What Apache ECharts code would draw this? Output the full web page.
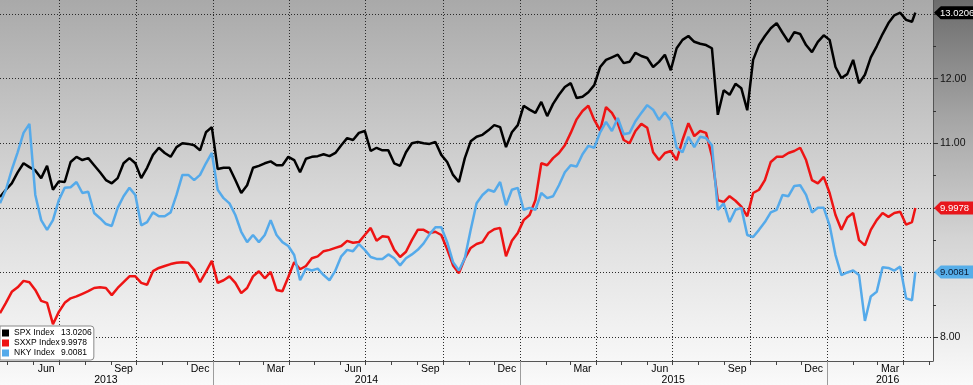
<!DOCTYPE html>
<html><head><meta charset="utf-8">
<script src="https://cdn.jsdelivr.net/npm/echarts@6/dist/echarts.min.js"></script>
<style>html,body{margin:0;padding:0;background:#fff}#c{width:973px;height:385px}</style>
</head><body><div id="c"></div>
<script>
const seriesNames = ['SPX Index', 'SXXP Index', 'NKY Index'];
const dates = [
'2013-04-22','2013-04-29','2013-05-06','2013-05-13','2013-05-20','2013-05-27','2013-06-03','2013-06-10','2013-06-17','2013-06-24',
'2013-07-01','2013-07-08','2013-07-15','2013-07-22','2013-07-29','2013-08-05','2013-08-12','2013-08-19','2013-08-26','2013-09-02',
'2013-09-09','2013-09-16','2013-09-23','2013-09-30','2013-10-07','2013-10-14','2013-10-21','2013-10-28','2013-11-04','2013-11-11',
'2013-11-18','2013-11-25','2013-12-02','2013-12-09','2013-12-16','2013-12-23','2013-12-30',
'2014-01-06','2014-01-13','2014-01-20','2014-01-27','2014-02-03','2014-02-10','2014-02-17','2014-02-24','2014-03-03','2014-03-10',
'2014-03-17','2014-03-24','2014-03-31','2014-04-07','2014-04-14','2014-04-21','2014-04-28','2014-05-05','2014-05-12','2014-05-19',
'2014-05-26','2014-06-02','2014-06-09','2014-06-16','2014-06-23','2014-06-30','2014-07-07','2014-07-14','2014-07-21','2014-07-28',
'2014-08-04','2014-08-11','2014-08-18','2014-08-25','2014-09-01','2014-09-08','2014-09-15','2014-09-22','2014-09-29','2014-10-06',
'2014-10-13','2014-10-20','2014-10-27','2014-11-03','2014-11-10','2014-11-17','2014-11-24','2014-12-01','2014-12-08','2014-12-15',
'2014-12-22','2014-12-29',
'2015-01-05','2015-01-12','2015-01-19','2015-01-26','2015-02-02','2015-02-09','2015-02-16','2015-02-23','2015-03-02','2015-03-09',
'2015-03-16','2015-03-23','2015-03-30','2015-04-06','2015-04-13','2015-04-20','2015-04-27','2015-05-04','2015-05-11','2015-05-18',
'2015-05-25','2015-06-01','2015-06-08','2015-06-15','2015-06-22','2015-06-29','2015-07-06','2015-07-13','2015-07-20','2015-07-27',
'2015-08-03','2015-08-10','2015-08-17','2015-08-24','2015-08-31','2015-09-07','2015-09-14','2015-09-21','2015-09-28','2015-10-05',
'2015-10-12','2015-10-19','2015-10-26','2015-11-02','2015-11-09','2015-11-16','2015-11-23','2015-11-30','2015-12-07','2015-12-14',
'2015-12-21','2015-12-28',
'2016-01-04','2016-01-11','2016-01-18','2016-01-25','2016-02-01','2016-02-08','2016-02-15','2016-02-22','2016-02-29','2016-03-07',
'2016-03-14','2016-03-21','2016-03-28','2016-04-04','2016-04-11','2016-04-15'
];
const spx = [
10.17,10.28,10.38,10.55,10.69,10.63,10.58,10.46,10.65,10.28,
10.41,10.40,10.71,10.79,10.74,10.77,10.66,10.55,10.43,10.38,
10.46,10.69,10.77,10.69,10.46,10.62,10.82,10.93,10.85,10.79,
10.94,11.00,10.99,10.97,10.89,11.17,11.25,10.60,10.62,10.62,
10.43,10.23,10.35,10.62,10.65,10.69,10.72,10.66,10.66,10.79,
10.74,10.55,10.76,10.79,10.80,10.83,10.80,10.85,10.97,11.08,
11.05,11.16,11.19,10.88,10.93,10.89,10.89,10.69,10.65,10.86,
11.00,11.02,11.00,10.99,11.02,10.82,10.71,10.51,10.40,10.77,
11.03,11.10,11.13,11.20,11.28,11.25,10.94,11.17,11.28,11.58,
11.52,11.47,11.64,11.42,11.61,11.75,11.87,11.93,11.70,11.72,
11.79,11.90,12.18,12.29,12.33,12.37,12.24,12.26,12.40,12.35,
12.32,12.18,12.26,12.37,12.13,12.47,12.60,12.66,12.57,12.54,
12.52,12.47,11.44,11.82,11.75,11.92,11.85,11.51,12.29,12.52,
12.66,12.78,12.86,12.71,12.57,12.72,12.69,12.52,12.41,12.57,
12.67,12.60,12.18,12.01,12.07,12.29,11.93,12.06,12.33,12.50,
12.69,12.86,12.98,13.02,12.91,12.88,13.0206
];
const sxxp = [
8.37,8.53,8.70,8.77,8.87,8.85,8.73,8.56,8.53,8.20,
8.39,8.53,8.60,8.63,8.67,8.71,8.76,8.77,8.76,8.65,
8.76,8.85,8.94,8.94,8.84,8.81,9.02,9.07,9.10,9.13,
9.15,9.16,9.15,9.04,8.85,9.01,9.18,8.84,8.88,8.94,
8.84,8.68,8.76,8.94,9.02,8.91,9.01,8.73,8.71,8.93,
9.16,9.05,9.10,9.22,9.25,9.33,9.35,9.38,9.41,9.49,
9.46,9.47,9.58,9.69,9.49,9.56,9.55,9.35,9.24,9.32,
9.50,9.66,9.66,9.61,9.63,9.58,9.36,9.11,8.99,9.22,
9.38,9.44,9.47,9.61,9.67,9.69,9.25,9.49,9.61,9.81,
9.89,10.12,10.69,10.66,10.77,10.85,10.97,11.16,11.37,11.50,
11.58,11.36,11.20,11.56,11.47,11.31,11.05,11.00,11.19,11.30,
11.24,10.86,10.74,10.85,10.88,10.74,11.05,11.31,11.11,11.19,
11.16,10.80,10.12,10.09,10.18,10.11,10.02,9.87,10.23,10.28,
10.43,10.71,10.79,10.79,10.85,10.88,10.93,10.74,10.43,10.38,
10.48,10.23,9.89,9.66,9.85,9.92,9.50,9.42,9.66,9.81,
9.92,9.86,9.92,9.94,9.74,9.78,9.9978
];
const nky = [
10.07,10.28,10.59,10.86,11.16,11.30,10.20,9.81,9.66,9.81,
10.12,10.31,10.32,10.40,10.23,10.25,9.92,9.84,9.75,9.72,
10.00,10.18,10.31,10.20,9.73,9.78,9.93,9.87,9.87,9.93,
10.20,10.51,10.51,10.43,10.51,10.69,10.85,10.28,10.15,10.07,
9.89,9.63,9.47,9.58,9.47,9.58,9.81,9.58,9.47,9.41,
9.27,8.88,9.06,9.03,9.06,8.96,8.88,9.03,9.25,9.35,
9.33,9.44,9.35,9.24,9.21,9.21,9.28,9.22,9.11,9.22,
9.28,9.35,9.45,9.59,9.70,9.70,9.47,9.16,9.03,9.22,
9.66,10.07,10.20,10.28,10.25,10.40,10.04,10.28,10.31,9.97,
10.00,9.97,10.23,10.15,10.18,10.35,10.55,10.66,10.64,10.83,
10.96,10.93,11.17,11.33,11.19,11.39,11.14,11.16,11.34,11.47,
11.59,11.52,11.36,11.48,11.36,10.93,10.86,11.10,10.94,11.10,
11.08,10.97,9.97,10.07,9.78,9.97,10.00,9.58,9.55,9.66,
9.78,9.93,9.97,10.20,10.18,10.34,10.35,10.20,9.93,10.00,
10.00,9.73,9.27,8.96,9.00,9.03,8.96,8.25,8.63,8.70,
9.08,9.07,9.03,9.09,8.60,8.57,9.0081
];
const xRange = ['2013-04-22', '2016-05-06'];
const quarterStarts = ['2013-07-01','2013-10-01','2014-01-01','2014-04-01','2014-07-01','2014-10-01','2015-01-01','2015-04-01','2015-07-01','2015-10-01','2016-01-01','2016-04-01'];
const monthTicks = ['2013-05-01','2013-06-01','2013-07-01','2013-08-01','2013-09-01','2013-10-01','2013-11-01','2013-12-01',
'2014-01-01','2014-02-01','2014-03-01','2014-04-01','2014-05-01','2014-06-01','2014-07-01','2014-08-01','2014-09-01','2014-10-01','2014-11-01','2014-12-01',
'2015-01-01','2015-02-01','2015-03-01','2015-04-01','2015-05-01','2015-06-01','2015-07-01','2015-08-01','2015-09-01','2015-10-01','2015-11-01','2015-12-01',
'2016-01-01','2016-02-01','2016-03-01','2016-04-01','2016-05-01'];
const monthLabels = [['2013-06-16','Jun'],['2013-09-16','Sep'],['2013-12-16','Dec'],['2014-03-16','Mar'],['2014-06-16','Jun'],['2014-09-16','Sep'],['2014-12-16','Dec'],['2015-03-16','Mar'],['2015-06-16','Jun'],['2015-09-16','Sep'],['2015-12-16','Dec'],['2016-03-16','Mar']];
const yearLabels = [['2013-08-26','2013'],['2014-07-02','2014'],['2015-07-02','2015'],['2016-03-13','2016']];
const yearStarts = ['2014-01-01','2015-01-01','2016-01-01'];
const yRange = [7.63, 13.217];
const yMajorTicks = [8, 9, 10, 11, 12, 13];
const yMinorTicks = [8.5, 9.5, 10.5, 11.5, 12.5];
const yTickLabels = [8, 11, 12];

const T = d => Date.parse(d + 'T00:00:00Z');
const FONT = "Tahoma,'Liberation Sans',Arial,sans-serif";
const colors = ['#000000', '#ee1414', '#55aaea'];
const allSeries = [spx, sxxp, nky];
const lastVals = allSeries.map(a => a[a.length - 1]);
const lastTxt = lastVals.map(v => v.toFixed(4));
const tagStyles = ['spx', 'sxxp', 'nky'];

const monthLabelMap = {}; monthLabels.forEach(m => monthLabelMap[T(m[0])] = m[1]);
const yearLabelMap = {}; yearLabels.forEach(m => yearLabelMap[T(m[0])] = m[1]);

function tagImage(color) {
  const c = document.createElement('canvas');
  c.width = 80; c.height = 26;
  const g = c.getContext('2d');
  g.fillStyle = color;
  g.beginPath(); g.moveTo(0, 13); g.lineTo(11, 0); g.lineTo(80, 0); g.lineTo(80, 26); g.lineTo(11, 26); g.closePath(); g.fill();
  return c;
}

const xBase = {type: 'value', min: T(xRange[0]), max: T(xRange[1]), position: 'bottom', gridIndex: 0};
const yBase = {type: 'value', min: yRange[0], max: yRange[1], position: 'right', gridIndex: 0};
const dotted = {color: '#2a2a2a', width: 1, type: [1, 2]};
const legText = {fontFamily: FONT, fontSize: 8.5, color: '#000', lineHeight: 10};
const tagText = {fontFamily: FONT, fontSize: 9.5, padding: [2, 3, 1, 6], lineHeight: 11};

const chart = echarts.init(document.getElementById('c'), null, {renderer: 'canvas'});
chart.setOption({
  animation: false,
  backgroundColor: {type: 'linear', x: 0, y: 0, x2: 0, y2: 1, colorStops: [
    {offset: 0, color: '#6c6c6c'}, {offset: 0.3, color: '#a4a4a4'}, {offset: 0.62, color: '#d4d4d4'}, {offset: 1, color: '#fafafa'}]},
  grid: {left: 0, right: 40, top: 0, bottom: 24, show: true, borderWidth: 0,
    containLabel: false, outerBoundsMode: 'none',
    backgroundColor: {type: 'linear', x: 0, y: 0, x2: 0, y2: 1, colorStops: [
      {offset: 0, color: '#a9a9a9'}, {offset: 0.55, color: '#d9d9d9'}, {offset: 1, color: '#f7f7f7'}]}},
  legend: [
    {
      orient: 'vertical', left: 0, top: 326, padding: [2, 34, 2, 2], itemGap: 0,
      itemWidth: 7, itemHeight: 7, icon: 'rect', selectedMode: false,
      backgroundColor: '#ffffff', borderColor: '#8a8a8a', borderWidth: 1, borderRadius: [0, 3, 3, 0],
      data: seriesNames, textStyle: legText, z: 10
    },
    {
      orient: 'vertical', left: 54, top: 326, padding: [2, 0, 2, 2], itemGap: 0,
      itemWidth: 0, itemHeight: 7, icon: 'none', selectedMode: false,
      data: seriesNames, formatter: name => lastTxt[seriesNames.indexOf(name)],
      textStyle: legText, z: 11
    }
  ],
  xAxis: [
    Object.assign({}, xBase, {
      axisLine: {show: true, onZero: false, lineStyle: {color: '#555', width: 1}},
      axisTick: {show: true, customValues: monthTicks.map(T), length: 4, lineStyle: {color: '#444'}},
      axisLabel: {show: true, customValues: monthLabels.map(m => T(m[0])), margin: 3,
        formatter: v => monthLabelMap[v] || '', fontFamily: FONT, fontSize: 10.5, color: '#000'},
      splitLine: {show: false}
    }),
    Object.assign({}, xBase, {
      axisLine: {show: false, onZero: false},
      axisTick: {show: false, customValues: quarterStarts.map(T)},
      axisLabel: {show: false},
      splitLine: {show: true, lineStyle: dotted}
    }),
    Object.assign({}, xBase, {
      axisLine: {show: false, onZero: false},
      axisTick: {show: false},
      axisLabel: {show: true, customValues: yearLabels.map(m => T(m[0])), margin: 14,
        formatter: v => yearLabelMap[v] || '', fontFamily: FONT, fontSize: 10.5, color: '#000'},
      splitLine: {show: false}
    }),
    Object.assign({}, xBase, {
      axisLine: {show: false, onZero: false},
      axisTick: {show: true, customValues: yearStarts.map(T), length: 24, lineStyle: {color: '#9c9c9c', width: 1}},
      axisLabel: {show: false},
      splitLine: {show: false}
    })
  ],
  yAxis: [
    Object.assign({}, yBase, {
      axisLine: {show: true, onZero: false, lineStyle: {color: '#555', width: 1}},
      axisTick: {show: true, customValues: yMajorTicks, length: 5, lineStyle: {color: '#333'}},
      axisLabel: {show: true, customValues: yTickLabels, margin: 7, formatter: v => v.toFixed(2),
        fontFamily: FONT, fontSize: 10.5, color: '#111'},
      splitLine: {show: true, lineStyle: dotted}
    }),
    Object.assign({}, yBase, {
      axisLine: {show: false, onZero: false},
      axisTick: {show: true, customValues: yMinorTicks, length: 3, lineStyle: {color: '#333'}},
      axisLabel: {show: false},
      splitLine: {show: false}
    }),
    Object.assign({}, yBase, {
      axisLine: {show: false, onZero: false},
      axisTick: {show: false},
      axisLabel: {show: true, customValues: lastVals, margin: 1,
        formatter: v => {
          let k = 0, best = 1e9;
          lastVals.forEach((lv, i) => { if (Math.abs(lv - v) < best) { best = Math.abs(lv - v); k = i; } });
          return '{' + tagStyles[k] + '|' + lastTxt[k] + '}';
        },
        rich: {
          spx: Object.assign({backgroundColor: {image: tagImage('#000000')}, color: '#ffffff'}, tagText),
          sxxp: Object.assign({backgroundColor: {image: tagImage('#e8161b')}, color: '#ffffff'}, tagText),
          nky: Object.assign({backgroundColor: {image: tagImage('#56aee9')}, color: '#0b1a33'}, tagText)
        }},
      splitLine: {show: false}
    })
  ],
  series: allSeries.map((arr, s) => ({
    name: seriesNames[s], type: 'line', xAxisIndex: 0, yAxisIndex: 0,
    data: dates.map((d, i) => [T(d), arr[i]]),
    showSymbol: false, symbol: 'none', silent: true,
    lineStyle: {color: colors[s], width: 2.5}, itemStyle: {color: colors[s]},
    z: 2 + s
  }))
});
</script></body></html>
